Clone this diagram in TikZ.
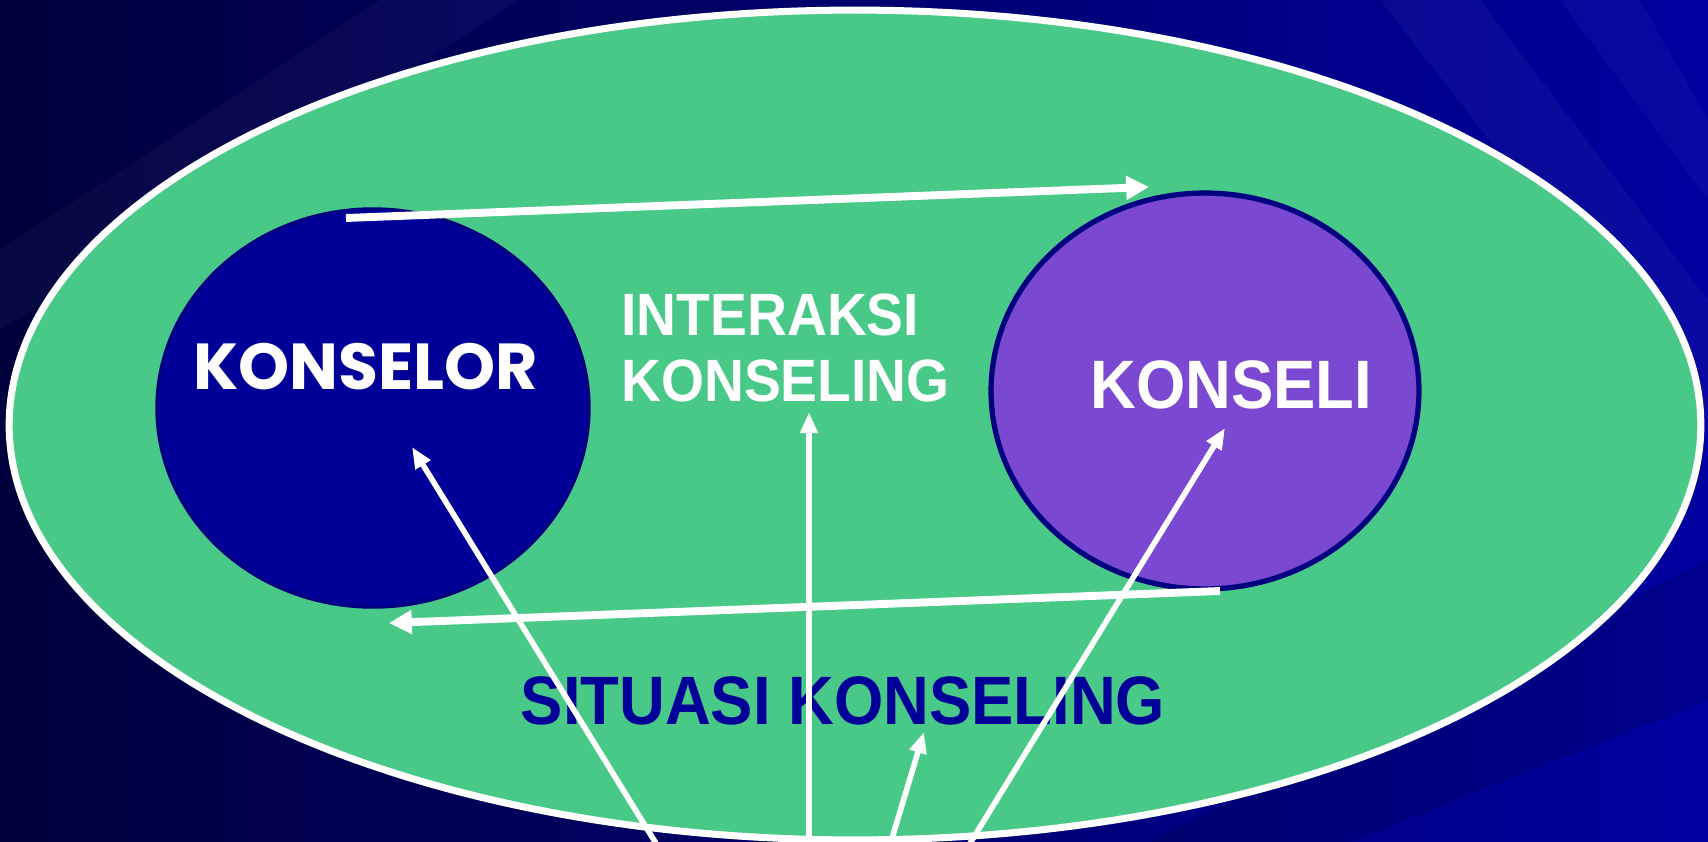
\documentclass[tikz,border=0pt]{standalone}
\usepackage{fontspec}
\setmainfont[FakeStretch=0.925]{Liberation Sans}
\newfontfamily\comicfont{Poppins}
\usepackage{tikz}
\usetikzlibrary{shapes.geometric,arrows.meta}

\definecolor{bgdark}{HTML}{00003C}
\definecolor{bglight}{HTML}{0000A0}
\definecolor{sitgreen}{HTML}{48C987}
\definecolor{klrblue}{HTML}{000099}
\definecolor{klrrim}{HTML}{000080}
\definecolor{kliviolet}{HTML}{7B48D2}

\tikzset{
  bubble/.style={ellipse,inner sep=0pt,line width=#1},
  flow/.style={draw=white,line width=4.5pt,-{Triangle[length=13pt,width=13pt]}},
  pointer/.style={draw=white,line width=3.2pt,-{Triangle[length=12pt,width=9.5pt]}},
  lbl/.style={inner sep=0pt,text=white,font=\bfseries\fontsize{34}{38}\selectfont}
}

\begin{document}
\begin{tikzpicture}[x=0.02cm,y=-0.02cm]
  \useasboundingbox (0,0) rectangle (1708,842);
  % background
  \shade[left color=bgdark,right color=bglight] (0,0) rectangle (1708,842);
  \fill[white,opacity=0.03] (380,0) -- (520,0) -- (0,330) -- (0,250) -- cycle;
  \fill[white,opacity=0.04] (1380,0) -- (1480,0) -- (1708,300) -- (1708,420) -- cycle;
  \fill[white,opacity=0.03] (1560,0) -- (1640,0) -- (1708,120) -- (1708,200) -- cycle;
  \fill[black,opacity=0.12] (1708,560) -- (1708,700) -- (1350,842) -- (1150,842) -- cycle;

  \node[bubble=4pt,draw=white,fill=sitgreen,minimum width=33.84cm,minimum height=16.6cm] (situasi) at (855,425) {};
  \node[bubble=2pt,draw=klrrim,fill=klrblue,minimum width=8.64cm,minimum height=7.96cm] (konselor) at (373,408) {};
  \node[bubble=3pt,draw=klrrim,fill=kliviolet,minimum width=8.56cm,minimum height=7.92cm] (konseli) at (1205,391) {};

  \node[lbl,anchor=base west,font=\comicfont\bfseries\fontsize{37}{40}\selectfont] (tkonselor) at (193,389) {KONSELOR};
  \node[lbl,anchor=base west,font=\bfseries\fontsize{39}{42}\selectfont] (tkonseli) at (1090,408) {KONSELI};
  \node[lbl,anchor=base west] (tinteraksi) at (621,335) {INTERAKSI};
  \node[lbl,anchor=base west] (tkonseling) at (621,401) {KONSELING};
  \node[lbl,anchor=base,text=klrblue,font=\bfseries\fontsize{39}{42}\selectfont] (tsituasi) at (843,724) {SITUASI KONSELING};

  % interaction arrows
  \coordinate (kt) at (346,218);
  \coordinate (ki) at (1149,187);
  \coordinate (kb) at (1220,591);
  \coordinate (ko) at (389,623);
  \draw[flow] (kt) -- (ki);
  \draw[flow] (kb) -- (ko);

  % pointers from below
  \foreach \s/\t in {{(657,845)}/{(412,447)},{(809,845)}/{(809,412)},{(890,845)}/{(924,732)},{(969,845)}/{(1225,428)}}
    \draw[pointer] \s -- \t;
\end{tikzpicture}
\end{document}
